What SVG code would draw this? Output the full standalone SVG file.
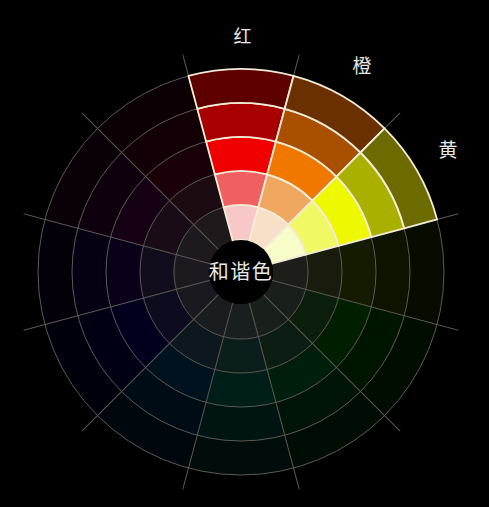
<svg xmlns="http://www.w3.org/2000/svg" xmlns:xlink="http://www.w3.org/1999/xlink" width="489" height="507" viewBox="0 0 489 507">
<style>
.dim{opacity:.125}
.grid{fill:none;stroke:#5c5a55;stroke-width:1}
.hl{stroke:#f2ecd8;stroke-width:1.8;stroke-linejoin:round}
.lbl{font-family:"Noto Sans CJK SC","Noto Sans CJK JP",sans-serif;fill:#e8e8e4;text-anchor:middle}
</style>
<defs>
<path id="c1" d="M-17.341-64.717A67 67 0 0 1 17.341-64.717L8.282-30.910A32 32 0 0 0-8.282-30.910Z"/>
<path id="c2" d="M-26.141-97.559A101 101 0 0 1 26.141-97.559L17.341-64.717A67 67 0 0 0-17.341-64.717Z"/>
<path id="c3" d="M-34.941-130.400A135 135 0 0 1 34.941-130.400L26.141-97.559A101 101 0 0 0-26.141-97.559Z"/>
<path id="c4" d="M-43.740-163.241A169 169 0 0 1 43.740-163.241L34.941-130.400A135 135 0 0 0-34.941-130.400Z"/>
<path id="c5" d="M-52.540-196.083A203 203 0 0 1 52.540-196.083L43.740-163.241A169 169 0 0 0-43.740-163.241Z"/>
<path id="ray" d="M8.282-30.910L58.234-217.333"/>
</defs>
<rect width="489" height="507" fill="#000"/>
<g transform="translate(241 272)">
<g id="dim-wheel">
<g id="s090" class="dim" transform="rotate(90)"><use xlink:href="#c1" fill="#e6f0c6"/><use xlink:href="#c2" fill="#c8e060"/><use xlink:href="#c3" fill="#a8d800"/><use xlink:href="#c4" fill="#709800"/><use xlink:href="#c5" fill="#435800"/></g>
<g id="s120" class="dim" transform="rotate(120)"><use xlink:href="#c1" fill="#c6f6c6"/><use xlink:href="#c2" fill="#60f060"/><use xlink:href="#c3" fill="#00f000"/><use xlink:href="#c4" fill="#00a800"/><use xlink:href="#c5" fill="#006500"/></g>
<g id="s150" class="dim" transform="rotate(150)"><use xlink:href="#c1" fill="#c6f6d9"/><use xlink:href="#c2" fill="#60f09a"/><use xlink:href="#c3" fill="#00f060"/><use xlink:href="#c4" fill="#00a843"/><use xlink:href="#c5" fill="#006528"/></g>
<g id="s180" class="dim" transform="rotate(180)"><use xlink:href="#c1" fill="#c6f6ec"/><use xlink:href="#c2" fill="#60f0d2"/><use xlink:href="#c3" fill="#00f0be"/><use xlink:href="#c4" fill="#00a885"/><use xlink:href="#c5" fill="#006550"/></g>
<g id="s210" class="dim" transform="rotate(210)"><use xlink:href="#c1" fill="#c6e2f6"/><use xlink:href="#c2" fill="#60b4f0"/><use xlink:href="#c3" fill="#008cf0"/><use xlink:href="#c4" fill="#0062a8"/><use xlink:href="#c5" fill="#003b65"/></g>
<g id="s240" class="dim" transform="rotate(240)"><use xlink:href="#c1" fill="#c6c6f6"/><use xlink:href="#c2" fill="#6060f0"/><use xlink:href="#c3" fill="#0000f0"/><use xlink:href="#c4" fill="#0000a8"/><use xlink:href="#c5" fill="#000065"/></g>
<g id="s270" class="dim" transform="rotate(270)"><use xlink:href="#c1" fill="#dac6f6"/><use xlink:href="#c2" fill="#9060e0"/><use xlink:href="#c3" fill="#5000c8"/><use xlink:href="#c4" fill="#38008c"/><use xlink:href="#c5" fill="#220055"/></g>
<g id="s300" class="dim" transform="rotate(300)"><use xlink:href="#c1" fill="#eac6e6"/><use xlink:href="#c2" fill="#c860b8"/><use xlink:href="#c3" fill="#a800a0"/><use xlink:href="#c4" fill="#780070"/><use xlink:href="#c5" fill="#480044"/></g>
<g id="s330" class="dim" transform="rotate(330)"><use xlink:href="#c1" fill="#f6c6d2"/><use xlink:href="#c2" fill="#e06088"/><use xlink:href="#c3" fill="#d00048"/><use xlink:href="#c4" fill="#960032"/><use xlink:href="#c5" fill="#5a001e"/></g>
</g>
<g id="grid" class="grid">
<circle r="67"/><circle r="101"/><circle r="135"/><circle r="169"/><circle r="203"/>
<use xlink:href="#ray"/><use xlink:href="#ray" transform="rotate(30)"/><use xlink:href="#ray" transform="rotate(60)"/><use xlink:href="#ray" transform="rotate(90)"/><use xlink:href="#ray" transform="rotate(120)"/><use xlink:href="#ray" transform="rotate(150)"/><use xlink:href="#ray" transform="rotate(180)"/><use xlink:href="#ray" transform="rotate(210)"/><use xlink:href="#ray" transform="rotate(240)"/><use xlink:href="#ray" transform="rotate(270)"/><use xlink:href="#ray" transform="rotate(300)"/><use xlink:href="#ray" transform="rotate(330)"/>
</g>
<g id="red" class="hl"><use xlink:href="#c1" fill="#f8c8c8"/><use xlink:href="#c2" fill="#f06060"/><use xlink:href="#c3" fill="#f00000"/><use xlink:href="#c4" fill="#a80000"/><use xlink:href="#c5" fill="#5e0000"/></g>
<g id="orange" class="hl" transform="rotate(30)"><use xlink:href="#c1" fill="#f8e0c8"/><use xlink:href="#c2" fill="#f0a860"/><use xlink:href="#c3" fill="#f07800"/><use xlink:href="#c4" fill="#a85000"/><use xlink:href="#c5" fill="#6a3000"/></g>
<g id="yellow" class="hl" transform="rotate(60)"><use xlink:href="#c1" fill="#f8fcc8"/><use xlink:href="#c2" fill="#f0f864"/><use xlink:href="#c3" fill="#eef800"/><use xlink:href="#c4" fill="#aab000"/><use xlink:href="#c5" fill="#6b6b00"/></g>
<g id="center"><circle r="32" fill="#000"/><text class="lbl" y="7" font-size="20" letter-spacing="1.5">和谐色</text></g>
</g>
<g id="labels">
<text class="lbl" x="242.5" y="42.5" font-size="18">红</text>
<text class="lbl" x="362" y="73" font-size="19">橙</text>
<text class="lbl" x="448" y="157" font-size="19">黄</text>
</g>
</svg>
